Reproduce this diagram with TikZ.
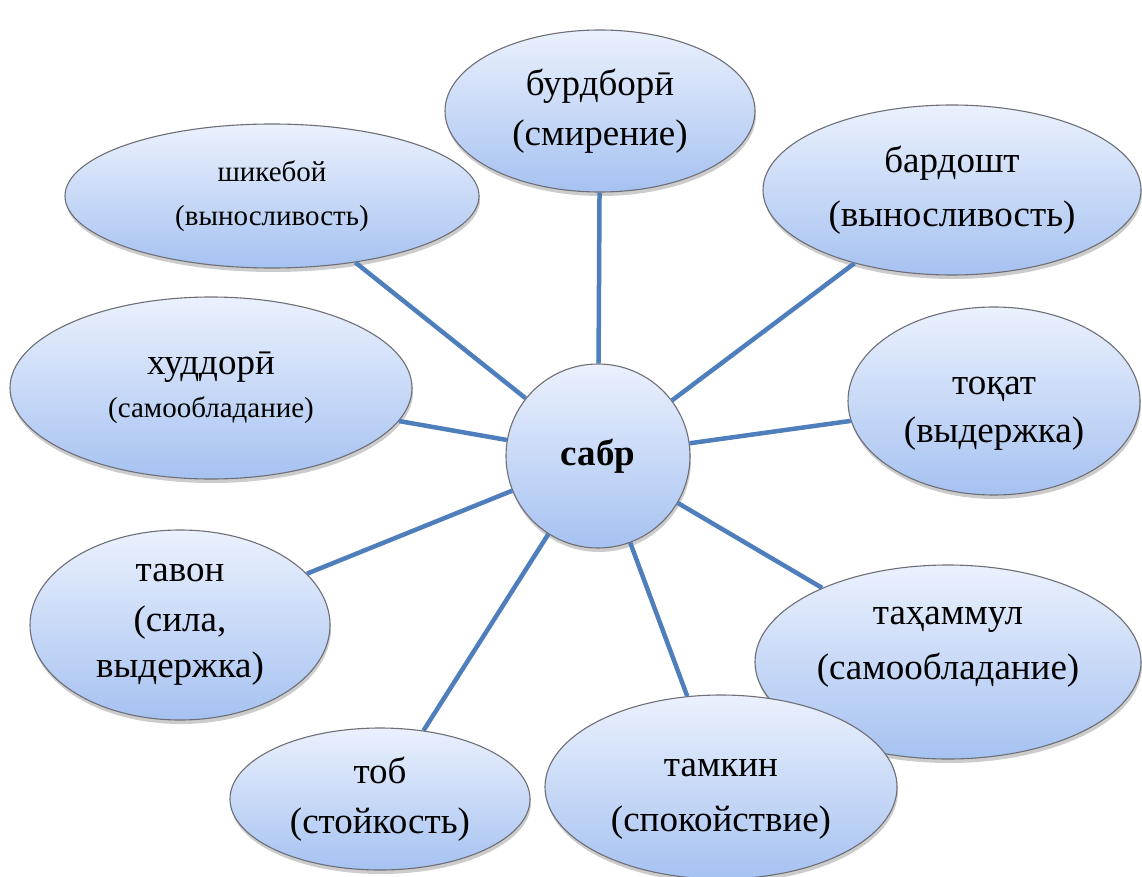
\documentclass[tikz,border=0pt]{standalone}
\usepackage{fontspec}
\setmainfont{Liberation Serif}
\usetikzlibrary{shapes.geometric,shadows}
\definecolor{bubtop}{RGB}{235,241,253}
\definecolor{bubbot}{RGB}{166,194,241}
\definecolor{bubline}{RGB}{110,110,118}
\definecolor{spoke}{RGB}{79,126,189}
\tikzset{
  bubble/.style={ellipse, draw=bubline, line width=1.1pt,
    top color=bubtop, bottom color=bubbot, inner sep=0pt, align=center,
    drop shadow={shadow xshift=1pt, shadow yshift=-4pt, opacity=0.2, fill=black}},
  hub/.style={bubble, circle},
  bigtxt/.style={font=\fontsize{37}{50}\selectfont},
  smalltxt/.style={font=\fontsize{29}{44}\selectfont},
  spokeline/.style={draw=spoke, line width=4.5pt}
}
\begin{document}
\begin{tikzpicture}[x=1pt,y=-1pt]
\useasboundingbox (0,0) rectangle (1142,877);
% outer ring of notions
\node[bubble, bigtxt, minimum width=310, minimum height=162] (burd) at (600,111) {бурдборӣ\\(смирение)};
\node[bubble, smalltxt, minimum width=414, minimum height=144] (shik) at (272,196) {шикебой\\(выносливость)};
\node[bubble, minimum width=378, minimum height=170, font=\fontsize{37}{54}\selectfont] (bard) at (952,190) {бардошт\\(выносливость)};
\node[bubble, minimum width=402, minimum height=182, font=\fontsize{29}{43}\selectfont] (hud) at (211,388)
  {{\fontsize{37}{43}\selectfont худдорӣ}\\(самообладание)};
\node[bubble, minimum width=292, minimum height=188, font=\fontsize{37}{48}\selectfont] (toq) at (994,401) {\rule{0pt}{42pt}тоқат\\(выдержка)};
\node[bubble, minimum width=300, minimum height=190, font=\fontsize{37}{46}\selectfont] (tav) at (180,625) {тавон\\[4pt](сила,\\выдержка)};
\node[bubble, minimum width=386, minimum height=194, font=\fontsize{37}{55}\selectfont] (tah) at (948,662) {таҳаммул\\(самообладание)\rule[-38pt]{0pt}{0pt}};
\node[bubble, minimum width=300, minimum height=142, font=\fontsize{37}{50}\selectfont] (tob) at (380,799) {тоб\\(стойкость)};
\node[bubble, minimum width=352, minimum height=184, font=\fontsize{37}{55}\selectfont] (tam) at (721,787) {\rule{0pt}{42pt}тамкин\\(спокойствие)};
% the central notion
\node[hub, minimum size=184, font=\fontsize{37}{44}\selectfont\bfseries] (sabr) at (598,456) {сабр};
% spokes from the centre to every notion
\foreach \t in {burd,shik,bard,hud,toq,tav,tah,tob,tam}
  \draw[spokeline] (sabr) -- (\t);
\end{tikzpicture}
\end{document}
